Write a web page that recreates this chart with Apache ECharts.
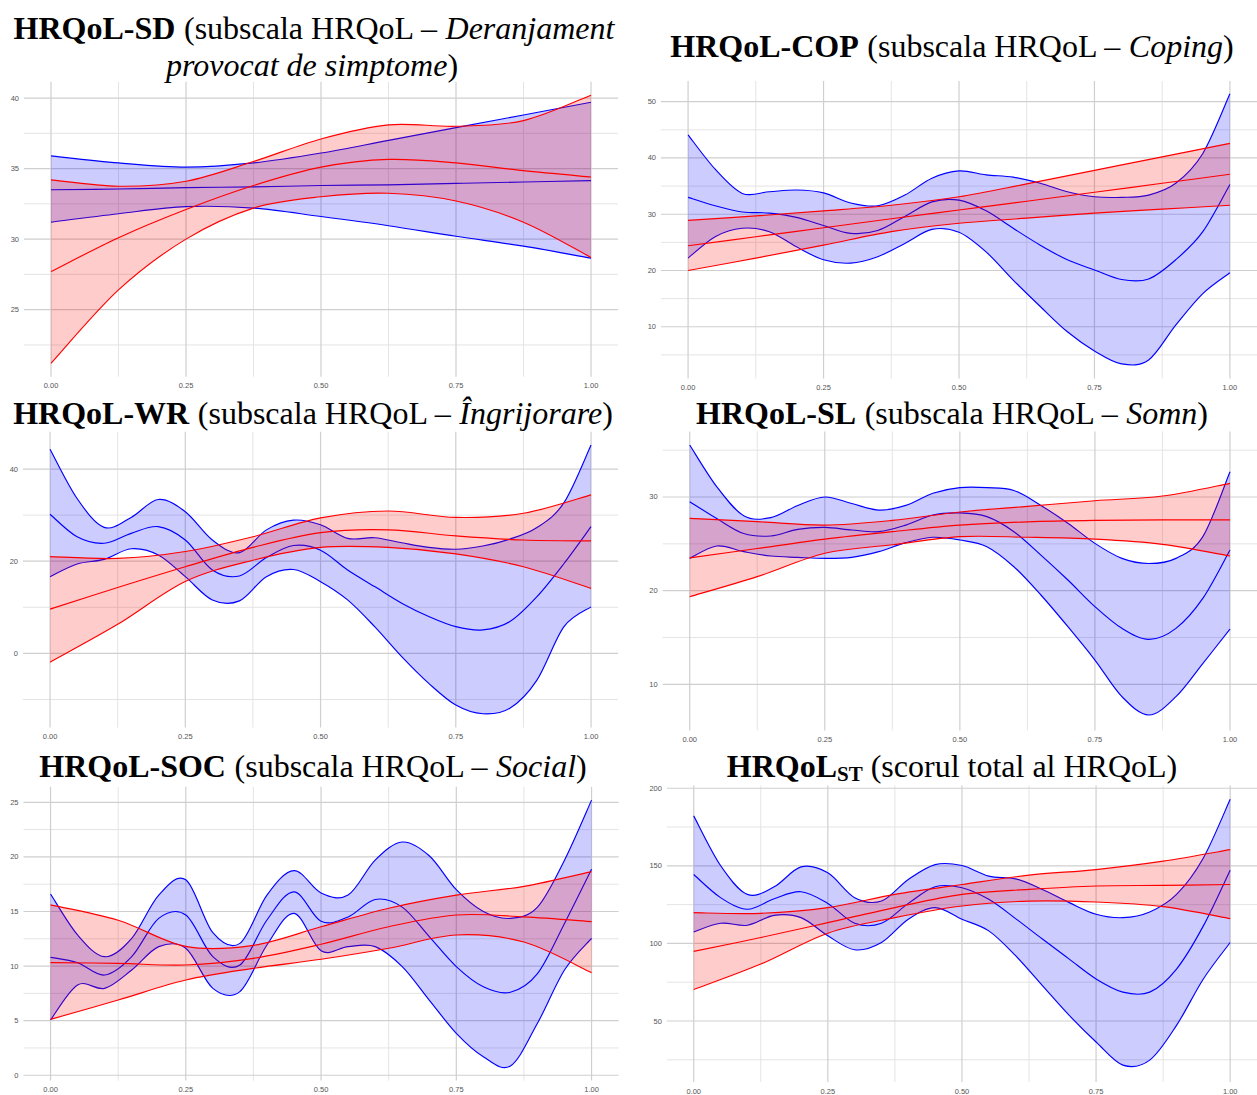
<!DOCTYPE html>
<html lang="ro">
<head>
<meta charset="utf-8">
<title>HRQoL – curbe de ajustare</title>
<script src="https://cdn.jsdelivr.net/npm/echarts@6.0.0/dist/echarts.min.js"></script>
<style>
  html, body { margin: 0; padding: 0; background: #ffffff; }
  #chart { width: 1257px; height: 1095px; }
</style>
</head>
<body>
<div id="chart"></div>
<script>
// x positions at which the fitted curves are evaluated
const xCoarse = [0, 0.125, 0.25, 0.375, 0.5, 0.625, 0.75, 0.875, 1];
const xFine = [0, 0.05, 0.1, 0.15, 0.2, 0.25, 0.3, 0.35, 0.4, 0.45, 0.5,
               0.55, 0.6, 0.65, 0.7, 0.75, 0.8, 0.85, 0.9, 0.95, 1];

// x-axis breaks (shared by all panels)
const xBreaks = [0, 0.25, 0.5, 0.75, 1];
const xMinorBreaks = [0.125, 0.375, 0.625, 0.875];

// HRQoL-SD
const sdRedLo  = [21.2, 26.4, 30.0, 32.2, 33.0, 33.25, 32.7, 31.2, 28.7];
const sdRedMid = [27.7, 30.1, 32.1, 33.8, 35.1, 35.65, 35.4, 34.85, 34.4];
const sdRedHi  = [34.2, 33.75, 34.1, 35.5, 37.1, 38.1, 38.0, 38.4, 40.2];
const sdBlueLo  = [31.2, 31.8, 32.3, 32.2, 31.6, 30.95, 30.2, 29.5, 28.65];
const sdBlueMid = [33.5, 33.55, 33.65, 33.7, 33.8, 33.85, 33.95, 34.05, 34.15];
const sdBlueHi  = [35.9, 35.4, 35.1, 35.4, 36.1, 37.0, 37.9, 38.8, 39.7];
const sdYBreaks = [25, 30, 35, 40];
const sdYMinor = [22.5, 27.5, 32.5, 37.5];

// HRQoL-COP
const copRedLo  = [20.0, 22.2, 24.5, 26.9, 28.4, 29.3, 30.2, 30.9, 31.6];
const copRedMid = [24.4, 26.0, 27.6, 29.2, 30.75, 32.3, 33.9, 35.5, 37.1];
const copRedHi  = [28.9, 29.7, 30.6, 31.6, 33.1, 35.4, 37.8, 40.2, 42.6];
const copBlueLo  = [22.2, 26.0, 27.5, 26.9, 24.2, 21.9, 21.3, 22.45, 24.8, 27.3, 26.8,
                    23.3, 18.3, 13.6, 9.1, 5.7, 3.4, 4.1, 10.3, 15.9, 19.6];
const copBlueMid = [33.0, 31.5, 30.4, 30.2, 29.45, 28.0, 26.6, 27.1, 29.6, 32.2, 32.5,
                    30.6, 27.5, 24.5, 21.9, 20.1, 18.4, 18.5, 21.9, 26.9, 35.3];
const copBlueHi  = [44.1, 38.0, 33.7, 34.0, 34.3, 33.8, 32.0, 31.5, 33.4, 36.4, 37.7,
                    37.0, 36.6, 35.5, 34.0, 33.1, 33.0, 33.4, 35.5, 40.8, 51.4];
const copYBreaks = [10, 20, 30, 40, 50];
const copYMinor = [5, 15, 25, 35, 45];

// HRQoL-WR
const wrRedLo  = [-1.9, 6.3, 15.6, 20.2, 23.0, 23.0, 21.6, 18.8, 14.1];
const wrRedMid = [9.6, 14.3, 18.8, 23.0, 26.2, 26.8, 25.5, 24.6, 24.4];
const wrRedHi  = [21.0, 20.6, 22.1, 25.3, 29.4, 30.9, 29.5, 30.4, 34.4];
const wrBlueLo  = [16.65, 19.4, 20.4, 22.7, 21.35, 16.65, 11.6, 11.4, 16.65, 18.2, 15.56,
                   11.6, 5.8, -0.7, -6.5, -11.2, -13.1, -11.9, -5.8, 5.8, 10.1];
const wrBlueMid = [30.2, 25.3, 23.9, 26.05, 27.5, 24.6, 18.1, 16.8, 20.8, 23.4, 22.4,
                   18.1, 14.5, 10.9, 8.0, 5.8, 5.1, 6.9, 12.3, 19.5, 27.5];
const wrBlueHi  = [44.3, 33.6, 27.35, 29.5, 33.4, 30.75, 24.6, 21.85, 26.8, 28.9, 27.9,
                   24.96, 25.1, 24.0, 23.0, 22.6, 23.3, 24.8, 27.3, 32.7, 45.2];
const wrYBreaks = [0, 20, 40];
const wrYMinor = [-10, 10, 30];

// HRQoL-SL
const slRedLo  = [19.36, 21.5, 24.0, 24.9, 25.77, 25.7, 25.5, 24.95, 23.7];
const slRedMid = [23.5, 24.5, 25.5, 26.3, 27.0, 27.35, 27.5, 27.55, 27.55];
const slRedHi  = [27.72, 27.37, 27.0, 27.5, 28.4, 29.0, 29.6, 30.1, 31.46];
const slBlueLo  = [23.45, 24.77, 24.17, 23.7, 23.56, 23.45, 23.56, 24.17, 25.13, 25.7, 25.41,
                   24.7, 22.56, 19.54, 16.16, 12.6, 8.69, 6.73, 8.69, 12.25, 15.9];
const slBlueMid = [29.5, 27.7, 26.1, 25.84, 26.55, 26.76, 26.48, 26.3, 27.0, 28.08, 28.3,
                   27.9, 26.3, 23.8, 21.14, 18.3, 15.98, 14.8, 15.98, 19.2, 24.34];
const slBlueHi  = [35.55, 31.1, 28.0, 27.8, 29.1, 30.0, 29.3, 28.6, 29.1, 30.4, 31.0,
                   31.0, 30.7, 29.1, 27.2, 25.05, 23.45, 22.9, 23.45, 25.8, 32.7];
const slYBreaks = [10, 20, 30];
const slYMinor = [15, 25, 35];

// HRQoL-SOC
const socRedLo  = [5.12, 6.89, 8.72, 9.79, 10.62, 11.63, 12.85, 12.2, 9.4];
const socRedMid = [10.31, 10.25, 10.1, 10.71, 12.0, 13.6, 14.68, 14.5, 14.07];
const socRedHi  = [15.6, 14.2, 11.8, 11.9, 13.6, 15.3, 16.5, 17.3, 18.65];
const socBlueLo  = [5.06, 8.27, 7.96, 9.64, 11.78, 11.63, 7.96, 7.66, 11.93, 14.83, 11.4,
                    11.78, 11.78, 9.95, 6.89, 3.84, 1.7, 0.85, 4.76, 9.64, 12.54];
const socBlueMid = [10.8, 10.31, 9.18, 10.86, 14.37, 14.68, 10.86, 10.1, 14.22, 16.8, 14.1,
                    14.5, 16.1, 15.4, 12.7, 9.95, 8.1, 7.6, 9.3, 13.9, 18.86];
const socBlueHi  = [16.6, 12.85, 10.86, 12.54, 16.5, 17.9, 13.06, 12.08, 16.5, 18.74, 16.7,
                    16.5, 19.7, 21.36, 20.1, 17.0, 15.0, 14.37, 15.4, 19.7, 25.2];
const socYBreaks = [0, 5, 10, 15, 20, 25];
const socYMinor = [2.5, 7.5, 12.5, 17.5, 22.5];

// HRQoL total score
const stRedLo  = [70.3, 86.7, 106.6, 116.6, 124.1, 127.3, 126.7, 123.7, 116.0];
const stRedMid = [94.85, 103.8, 113.4, 123.1, 131.6, 134.8, 137.0, 137.4, 138.0];
const stRedHi  = [119.8, 119.4, 123.1, 131.6, 138.0, 144.0, 147.6, 153.0, 160.4];
const stBlueLo  = [107.4, 113.0, 111.7, 118.1, 116.6, 104.9, 95.9, 100.6, 115.6, 123.1, 115.6,
                   108.1, 92.1, 72.8, 53.6, 36.5, 21.6, 24.8, 47.2, 77.1, 100.6];
const stBlueMid = [144.4, 129.5, 122.0, 128.8, 133.3, 125.8, 113.0, 113.0, 125.8, 136.5, 135.9,
                   128.4, 116.0, 102.8, 89.9, 77.1, 68.6, 68.6, 83.5, 111.3, 147.2];
const stBlueHi  = [182.2, 150.2, 131.6, 136.5, 149.3, 145.5, 129.5, 127.3, 141.2, 150.8, 150.2,
                   143.4, 141.6, 134.8, 126.3, 118.8, 116.6, 120.3, 131.6, 155.1, 192.9];
const stYBreaks = [50, 100, 150, 200];
const stYMinor = [25, 75, 125, 175];

// panel layout: plotting rectangles and y limits
const panels = [
  { rect: { left: 24, top: 81.8, width: 594, height: 294.9 }, yLim: [20.25, 41.15],
    yBreaks: sdYBreaks, yMinor: sdYMinor,
    red: [xCoarse, sdRedLo, sdRedMid, sdRedHi], blue: [xCoarse, sdBlueLo, sdBlueMid, sdBlueHi] },
  { rect: { left: 661, top: 80.9, width: 600.6, height: 297.6 }, yLim: [0.8, 53.7],
    yBreaks: copYBreaks, yMinor: copYMinor,
    red: [xCoarse, copRedLo, copRedMid, copRedHi], blue: [xFine, copBlueLo, copBlueMid, copBlueHi] },
  { rect: { left: 23, top: 431.7, width: 595.1, height: 295.9 }, yLim: [-16.1, 48.1],
    yBreaks: wrYBreaks, yMinor: wrYMinor,
    red: [xCoarse, wrRedLo, wrRedMid, wrRedHi], blue: [xFine, wrBlueLo, wrBlueMid, wrBlueHi] },
  { rect: { left: 662.7, top: 431.4, width: 600.6, height: 299 }, yLim: [5.09, 37.0],
    yBreaks: slYBreaks, yMinor: slYMinor,
    red: [xCoarse, slRedLo, slRedMid, slRedHi], blue: [xFine, slBlueLo, slBlueMid, slBlueHi] },
  { rect: { left: 23.5, top: 786.8, width: 595.1, height: 293.8 }, yLim: [-0.49, 26.42],
    yBreaks: socYBreaks, yMinor: socYMinor,
    red: [xCoarse, socRedLo, socRedMid, socRedHi], blue: [xFine, socBlueLo, socBlueMid, socBlueHi] },
  { rect: { left: 666.9, top: 785.6, width: 595.9, height: 298 }, yLim: [10.7, 201.7],
    yBreaks: stYBreaks, yMinor: stYMinor,
    red: [xCoarse, stRedLo, stRedMid, stRedHi], blue: [xFine, stBlueLo, stBlueMid, stBlueHi] }
];

const RED = '#ff0000', BLUE = '#0000ff';
const RED_FILL = 'rgba(255,0,0,0.2)', BLUE_FILL = 'rgba(0,0,255,0.2)';
const MAJOR = '#cfcfcf', MINOR = '#e4e4e4';

// Catmull-Rom through pixel points, written as cubic Bezier path commands
function curvePath(P, move) {
  let d = (move ? 'M ' : 'L ') + P[0][0] + ' ' + P[0][1];
  for (let i = 0; i < P.length - 1; i++) {
    const p0 = P[i - 1] || P[i], p1 = P[i], p2 = P[i + 1], p3 = P[i + 2] || P[i + 1];
    const c1x = p1[0] + (p2[0] - p0[0]) / 6, c1y = p1[1] + (p2[1] - p0[1]) / 6;
    const c2x = p2[0] - (p3[0] - p1[0]) / 6, c2y = p2[1] - (p3[1] - p1[1]) / 6;
    d += ' C ' + c1x + ' ' + c1y + ' ' + c2x + ' ' + c2y + ' ' + p2[0] + ' ' + p2[1];
  }
  return d;
}

// one ribbon (filled band + lower, fitted and upper curves)
function ribbonSeries(gi, fit, stroke, fill, z) {
  const [xs, lo, mid, hi] = fit;
  return {
    type: 'custom', xAxisIndex: gi, yAxisIndex: gi, z: z, silent: true, animation: false,
    data: xs.map((x, i) => [x, lo[i], mid[i], hi[i]]),
    encode: { x: 0, y: [1, 2, 3] },
    renderItem(params, api) {
      if (params.dataIndexInside !== 0) return null;
      const n = params.dataInsideLength;
      const pts = k => {
        const out = [];
        for (let i = 0; i < n; i++) out.push(api.coord([api.value(0, i), api.value(k, i)]));
        return out;
      };
      const L = pts(1), M = pts(2), H = pts(3);
      const band = curvePath(H, true) + ' ' + curvePath(L.slice().reverse(), false) + ' Z';
      const line = P => ({ type: 'path', shape: { pathData: curvePath(P, true) },
        style: { fill: 'none', stroke: stroke, lineWidth: 1.15 } });
      return { type: 'group', children: [
        { type: 'path', shape: { pathData: band }, style: { fill: fill, stroke: 'none' } },
        line(L), line(M), line(H)
      ] };
    }
  };
}

// background grid lines of one panel
function gridLineSeries(gi, p) {
  return {
    type: 'custom', xAxisIndex: gi, yAxisIndex: gi, z: 1, silent: true, animation: false,
    data: [[0.5, p.yBreaks[0]]],
    renderItem(params, api) {
      const cs = params.coordSys;
      const kids = [];
      const vline = (v, c, w) => {
        const x = api.coord([v, p.yLim[0]])[0];
        kids.push({ type: 'line', shape: { x1: x, y1: cs.y, x2: x, y2: cs.y + cs.height },
          style: { stroke: c, lineWidth: w } });
      };
      const hline = (v, c, w) => {
        const y = api.coord([0, v])[1];
        kids.push({ type: 'line', shape: { x1: cs.x, y1: y, x2: cs.x + cs.width, y2: y },
          style: { stroke: c, lineWidth: w } });
      };
      xMinorBreaks.forEach(v => vline(v, MINOR, 1));
      p.yMinor.forEach(v => hline(v, MINOR, 1));
      xBreaks.forEach(v => vline(v, MAJOR, 1.2));
      p.yBreaks.forEach(v => hline(v, MAJOR, 1.2));
      return { type: 'group', children: kids };
    }
  };
}

const tickLabel = { fontSize: 7.5, color: '#555555', fontFamily: 'Liberation Sans' };

const option = {
  backgroundColor: '#ffffff',
  animation: false,
  grid: panels.map(p => Object.assign({ containLabel: false }, p.rect)),
  xAxis: panels.map((p, i) => ({
    type: 'value', gridIndex: i, min: -0.05, max: 1.05,
    axisLine: { show: false }, axisTick: { show: false }, splitLine: { show: false },
    axisLabel: Object.assign({ customValues: xBreaks, margin: 5, formatter: v => v.toFixed(2) }, tickLabel)
  })),
  yAxis: panels.map((p, i) => ({
    type: 'value', gridIndex: i, min: p.yLim[0], max: p.yLim[1],
    axisLine: { show: false }, axisTick: { show: false }, splitLine: { show: false },
    axisLabel: Object.assign({ customValues: p.yBreaks, margin: 5, formatter: v => String(v) }, tickLabel)
  })),
  series: [],
  graphic: []
};

panels.forEach((p, i) => {
  option.series.push(gridLineSeries(i, p));
  option.series.push(ribbonSeries(i, p.blue, BLUE, BLUE_FILL, 2));
  option.series.push(ribbonSeries(i, p.red, RED, RED_FILL, 3));
});

// panel titles
const serif = 'Liberation Serif';
const richTitle = {
  b: { fontFamily: serif, fontSize: 32, fontWeight: 'bold', fill: '#000', lineHeight: 38 },
  n: { fontFamily: serif, fontSize: 32, fill: '#000', lineHeight: 38 },
  i: { fontFamily: serif, fontSize: 32, fontStyle: 'italic', fill: '#000', lineHeight: 38 },
  sub: { fontFamily: serif, fontSize: 21, fontWeight: 'bold', fill: '#000', padding: [15, 0, 0, 0] }
};
const titles = [
  { x: 314, y: 28, text: '{b|HRQoL-SD}{n| (subscala HRQoL – }{i|Deranjament}' },
  { x: 312, y: 65, text: '{i|provocat de simptome}{n|)}' },
  { x: 952, y: 46, text: '{b|HRQoL-COP}{n| (subscala HRQoL – }{i|Coping}{n|)}' },
  { x: 313, y: 413, text: '{b|HRQoL-WR}{n| (subscala HRQoL – }{i|Îngrijorare}{n|)}' },
  { x: 952, y: 413, text: '{b|HRQoL-SL}{n| (subscala HRQoL – }{i|Somn}{n|)}' },
  { x: 313, y: 766, text: '{b|HRQoL-SOC}{n| (subscala HRQoL – }{i|Social}{n|)}' },
  { x: 952, y: 766, text: '{b|HRQoL}{sub|ST}{n| (scorul total al HRQoL)}' }
];
option.graphic = titles.map(t => ({
  type: 'text', x: t.x, y: t.y, silent: true, z: 10,
  style: { text: t.text, rich: richTitle, align: 'center', verticalAlign: 'middle' }
}));

const chart = echarts.init(document.getElementById('chart'), null, { renderer: 'svg' });
chart.setOption(option);
</script>
</body>
</html>
